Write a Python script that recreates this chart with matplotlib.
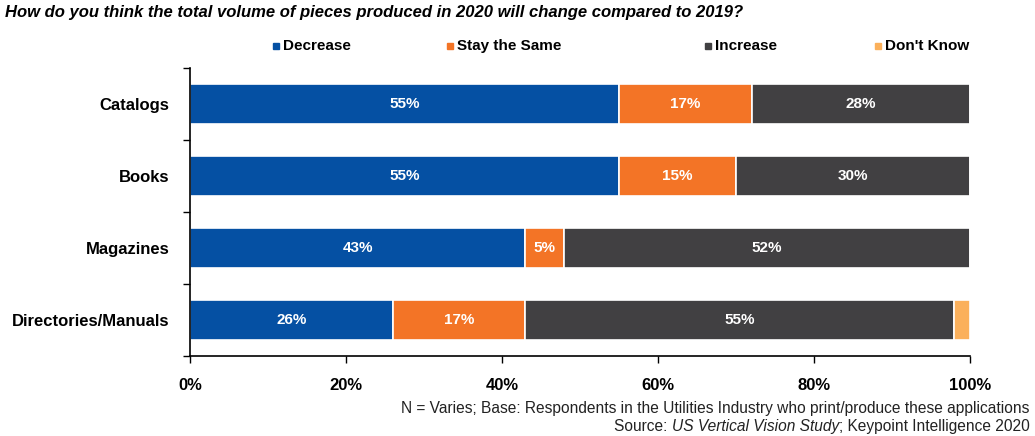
import matplotlib.pyplot as plt
from matplotlib.patches import Rectangle

plt.rcParams['font.family'] = ['Liberation Sans', 'DejaVu Sans']

categories = ['Catalogs', 'Books', 'Magazines', 'Directories/Manuals']
series = ['Decrease', 'Stay the Same', 'Increase', "Don't Know"]
decrease = [55, 55, 43, 26]
stay_same = [17, 15, 5, 17]
increase = [28, 30, 52, 55]
dont_know = [0, 0, 0, 2]
colors = ['#0550A3', '#F37426', '#414042', '#FBB05B']
x_ticks = [0, 20, 40, 60, 80, 100]

W, H = 1035, 436
fig = plt.figure(figsize=(W / 100, H / 100), dpi=100)
ax = fig.add_axes([0.1836, 0.1835, 0.7536, 0.6606])

ypos = list(range(len(categories)))
left = [0] * len(categories)
for name, vals, col in zip(series, [decrease, stay_same, increase, dont_know], colors):
    ax.barh(ypos, vals, left=left, height=0.56, color=col,
            edgecolor='white', linewidth=1.2)
    for y, v, l in zip(ypos, vals, left):
        if v >= 5 and name != "Don't Know":
            ax.text(l + v / 2, y, f'{v}%', ha='center', va='center',
                    color='white', fontsize=11, fontweight='bold')
    left = [a + b for a, b in zip(left, vals)]

ax.set_xlim(0, 100)
ax.set_ylim(len(categories) - 0.5, -0.5)
ax.set_xticks(x_ticks)
ax.set_xticklabels([f'{t}%' for t in x_ticks], fontsize=12, fontweight='bold')
ax.set_yticks(ypos)
ax.set_yticklabels(categories, fontsize=12, fontweight='bold')
ax.tick_params(axis='y', which='major', length=0, pad=15)
ax.set_yticks([y + 0.5 for y in range(-1, len(categories))], minor=True)
ax.tick_params(axis='y', which='minor', length=5, width=1)
ax.tick_params(axis='x', length=5, width=1, pad=11)
for s in ['top', 'right']:
    ax.spines[s].set_visible(False)
for s in ['left', 'bottom']:
    ax.spines[s].set_linewidth(1.2)

fig.text(0.005, 0.972, 'How do you think the total volume of pieces produced in 2020 will change compared to 2019?',
         fontsize=12, fontweight='bold', fontstyle='italic', va='center')

# legend: small square swatch followed by its label
legend_x = [273, 447, 705, 875]
for px, name, col in zip(legend_x, series, colors):
    fig.patches.append(Rectangle((px / W, 0.887), 6 / W, 6 / H, color=col,
                                 transform=fig.transFigure, figure=fig))
    fig.text((px + 10) / W, 0.894, name, fontsize=11, fontweight='bold',
             va='center')

fig.text(0.995, 0.064, 'N = Varies; Base: Respondents in the Utilities Industry who print/produce these applications',
         fontsize=11.2, ha='right', va='center', color='#222222')

# second source line mixes italic and upright text, laid out right to left
renderer = fig.canvas.get_renderer()
x = 0.995
for txt, style in [('; Keypoint Intelligence 2020', 'normal'),
                   ('US Vertical Vision Study', 'italic'),
                   ('Source: ', 'normal')]:
    t = fig.text(x, 0.022, txt, fontsize=11.2, fontstyle=style, ha='right',
                 va='center', color='#222222')
    bb = t.get_window_extent(renderer)
    x = bb.x0 / fig.bbox.width

fig.savefig('out.png', dpi=100)
